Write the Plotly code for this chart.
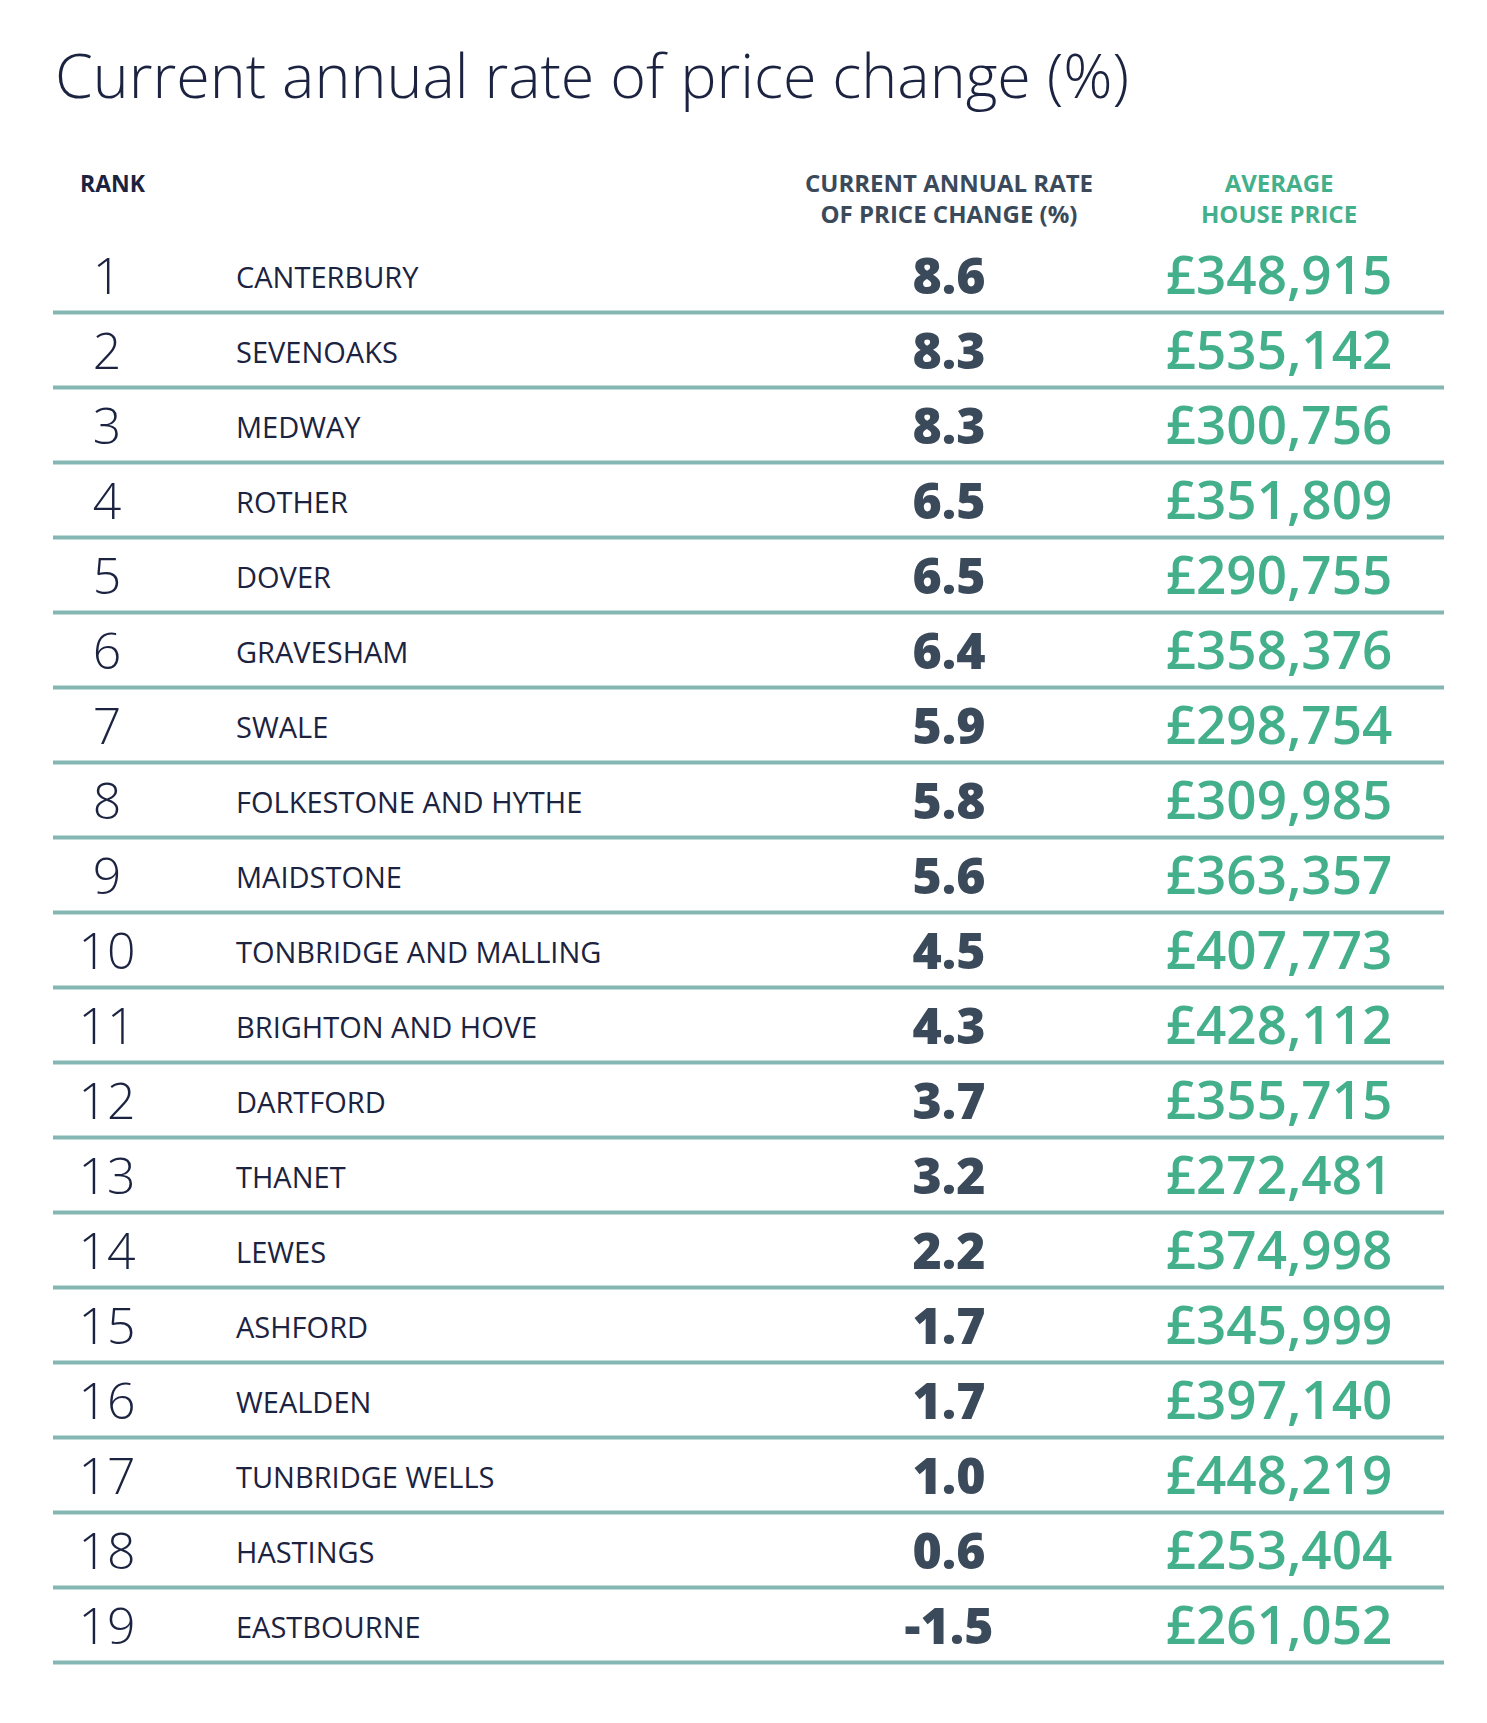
import plotly.graph_objects as go

# table data
ranks = list(range(1, 20))
areas = ["CANTERBURY", "SEVENOAKS", "MEDWAY", "ROTHER", "DOVER", "GRAVESHAM", "SWALE",
         "FOLKESTONE AND HYTHE", "MAIDSTONE", "TONBRIDGE AND MALLING", "BRIGHTON AND HOVE",
         "DARTFORD", "THANET", "LEWES", "ASHFORD", "WEALDEN", "TUNBRIDGE WELLS",
         "HASTINGS", "EASTBOURNE"]
rates = [8.6, 8.3, 8.3, 6.5, 6.5, 6.4, 5.9, 5.8, 5.6, 4.5, 4.3, 3.7, 3.2, 2.2, 1.7, 1.7, 1.0, 0.6, -1.5]
prices = [348915, 535142, 300756, 351809, 290755, 358376, 298754, 309985, 363357, 407773,
          428112, 355715, 272481, 374998, 345999, 397140, 448219, 253404, 261052]

NAVY = "#1b2340"
SLATE = "#3b4a5a"
GREEN = "#44b08b"
RULE = "#84b7b3"
FONT = "Open Sans"

# column x positions (px) and row pitch
X_RANK, X_NAME, X_RATE, X_PRICE = 99, 228, 941, 1271
PITCH = 75.0
Y0 = 273  # pixel centre of row 1

fig = go.Figure()
fig.add_trace(go.Scatter(x=[X_RANK] * 19, y=ranks, mode="text", text=[str(r) for r in ranks],
                         textfont=dict(family=FONT, size=50, color=NAVY, weight=300)))
fig.add_trace(go.Scatter(x=[X_NAME] * 19, y=ranks, mode="text", text=areas, textposition="middle right",
                         textfont=dict(family=FONT, size=29, color=NAVY, weight=400)))
fig.add_trace(go.Scatter(x=[X_RATE] * 19, y=ranks, mode="text", text=[f"{v:.1f}" for v in rates],
                         textfont=dict(family=FONT, size=50, color=SLATE, weight=800)))
fig.add_trace(go.Scatter(x=[X_PRICE] * 19, y=ranks, mode="text", text=[f"£{p:,}" for p in prices],
                         textfont=dict(family=FONT, size=53, color=GREEN, weight=600)))

for r in ranks:
    fig.add_shape(type="line", x0=45, x1=1436, y0=r + 0.42, y1=r + 0.42,
                  line=dict(color=RULE, width=4))

def y_of(px):
    return 1 + (px - Y0) / PITCH

fig.add_annotation(x=45, y=y_of(66), text="Current annual rate of price change (%)", showarrow=False,
                   xanchor="left", font=dict(family=FONT, size=61, color=NAVY, weight=300))
fig.add_annotation(x=70, y=y_of(175), text="<b>RANK</b>", showarrow=False, xanchor="left",
                   font=dict(family=FONT, size=23, color=NAVY))
fig.add_annotation(x=X_RATE, y=y_of(190), text="<b>CURRENT ANNUAL RATE<br>OF PRICE CHANGE (%)</b>",
                   showarrow=False, font=dict(family=FONT, size=24, color=SLATE))
fig.add_annotation(x=X_PRICE, y=y_of(190), text="<b>AVERAGE<br>HOUSE PRICE</b>",
                   showarrow=False, font=dict(family=FONT, size=24, color=GREEN))

fig.update_layout(
    width=1487, height=1723, margin=dict(l=0, r=0, t=0, b=0),
    paper_bgcolor="white", plot_bgcolor="white", showlegend=False,
    xaxis=dict(range=[0, 1487], visible=False),
    yaxis=dict(range=[y_of(1723), y_of(0)], visible=False),
)
fig.write_html("out.html")
